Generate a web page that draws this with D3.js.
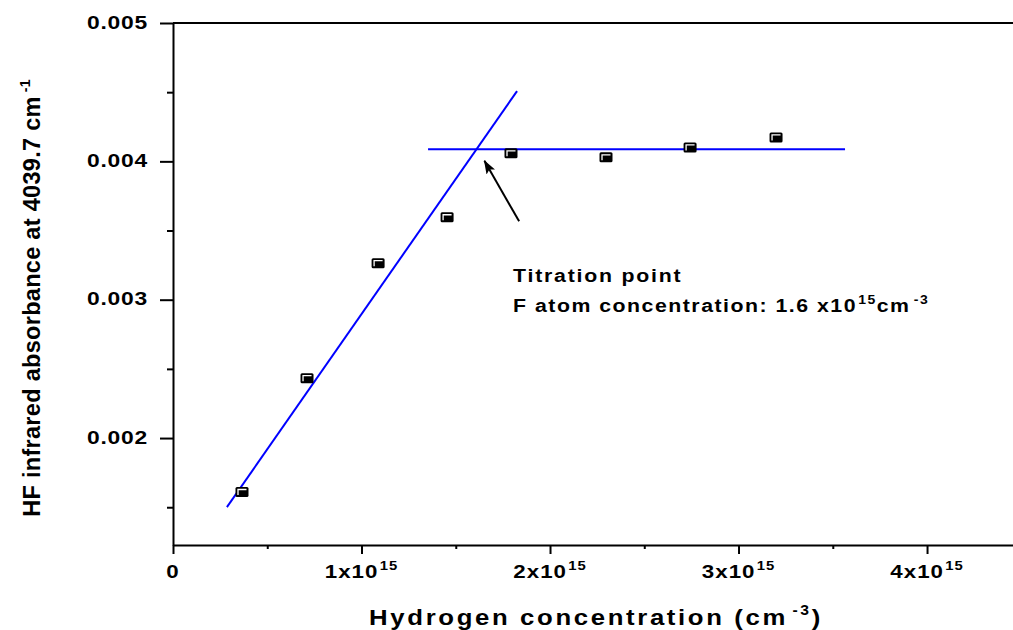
<!DOCTYPE html>
<html lang="en">
<head>
<meta charset="utf-8">
<style>
  html, body { margin: 0; padding: 0; background: #fff; }
  svg { display: block; }
  text { font-family: "Liberation Sans", Arial, sans-serif; font-weight: bold; fill: #000; }
</style>
</head>
<body>
<svg width="1013" height="630"></svg>
<script src="https://cdn.jsdelivr.net/npm/d3@7"></script>
<script>
// measured points (H concentration in cm^-3, HF absorbance)
var hConc = [0.366e15, 0.711e15, 1.088e15, 1.454e15, 1.793e15, 2.297e15, 2.743e15, 3.199e15]
var hfAbs = [0.00161, 0.002433, 0.003264, 0.003596, 0.004058, 0.004029, 0.004101, 0.004173]

// fitted lines: rising part and plateau
var riseX = [0.286e15, 1.825e15]
var riseY = [0.001501, 0.004508]
var plateauX = [1.353e15, 3.565e15]
var plateauY = [0.004087, 0.004087]

// arrow pointing at the titration point (tail, tip)
var arrowX = [1.836e15, 1.652e15]
var arrowY = [0.003567, 0.004004]

var xMajor = [0, 1e15, 2e15, 3e15, 4e15]
var xMinor = [0.5e15, 1.5e15, 2.5e15, 3.5e15]
var yMajor = [0.002, 0.003, 0.004, 0.005]
var yMinor = [0.0015, 0.0025, 0.0035, 0.0045]

var svg = d3.select('svg')
var W = 1013
var plotLeft = 173, plotTop = 23, plotBottom = 545

var x = d3.scaleLinear().domain([0, 4.456e15]).range([plotLeft, W])
var y = d3.scaleLinear().domain([0.001227, 0.005]).range([plotBottom, plotTop])

// text with optional superscripts, stretched sideways like the original
function label (parent, px, py, parts, o) {
  var tr = 'translate(' + px + ',' + py + ')'
  if (o.rotate) tr += ' rotate(' + o.rotate + ')'
  tr += ' scale(' + (o.sx || 1) + ',1)'
  var t = parent.append('g').attr('transform', tr)
    .append('text')
    .attr('text-anchor', o.anchor || 'start')
    .attr('font-size', o.size)
    .attr('letter-spacing', o.ls || 0)
  var up = false
  parts.forEach(function (p) {
    var sup = typeof p !== 'string'
    var ts = t.append('tspan').text(sup ? p.sup : p)
    if (sup) {
      ts.attr('font-size', o.supSize).attr('dy', -o.rise)
      if (p.dx) ts.attr('dx', p.dx)
      up = true
    } else if (up) {
      ts.attr('dy', o.rise)
      up = false
    }
  })
  return t
}

// axes (tick marks only, labels drawn by hand)
var yAxis = svg.append('g').attr('transform', 'translate(' + plotLeft + ',0)')
yAxis.call(d3.axisLeft(y).tickValues(yMajor).tickSize(13).tickSizeOuter(0).tickFormat(''))
var yAxisMinor = svg.append('g').attr('transform', 'translate(' + plotLeft + ',0)')
yAxisMinor.call(d3.axisLeft(y).tickValues(yMinor).tickSize(6).tickSizeOuter(0).tickFormat(''))
yAxisMinor.select('.domain').remove()

var xAxis = svg.append('g').attr('transform', 'translate(0,' + plotBottom + ')')
xAxis.call(d3.axisBottom(x).tickValues(xMajor).tickSize(9).tickSizeOuter(0).tickFormat(''))
var xAxisMinor = svg.append('g').attr('transform', 'translate(0,' + plotBottom + ')')
xAxisMinor.call(d3.axisBottom(x).tickValues(xMinor).tickSize(4).tickSizeOuter(0).tickFormat(''))
xAxisMinor.select('.domain').remove()

// top frame line
svg.append('line')
  .attr('x1', x.range()[0]).attr('x2', x.range()[1])
  .attr('y1', y(0.005)).attr('y2', y(0.005))

svg.selectAll('.domain, .tick line, line')
  .attr('stroke', '#000').attr('stroke-width', 2)

// tick labels
yMajor.forEach(function (v) {
  label(svg, plotLeft - 25, y(v) + 5.5, [d3.format('.3f')(v)],
    { size: 18, sx: 1.27, ls: 0.6, anchor: 'end' })
})
xMajor.forEach(function (v) {
  var n = Math.round(v / 1e15)
  var parts = n === 0 ? ['0'] : [n + 'x10', { sup: '15', dx: 1 }]
  label(svg, x(v), plotBottom + 33, parts,
    { size: 18, sx: 1.24, ls: 0.8, anchor: 'middle', supSize: 12, rise: 8 })
})

// axis titles
label(svg, 596, 625, ['Hydrogen concentration (cm', { sup: '-3', dx: 4 }, ')'],
  { size: 23, sx: 1.12, ls: 2.35, anchor: 'middle', supSize: 14, rise: 10 })
label(svg, 40, 298, ['HF infrared absorbance at 4039.7 cm', { sup: '-1', dx: 4 }],
  { size: 23.5, rotate: -90, ls: 0.3, anchor: 'middle', supSize: 14, rise: 10 })

// fitted lines
var line = d3.line().x(function (d) { return x(d[0]) }).y(function (d) { return y(d[1]) })
svg.append('path').datum(d3.zip(riseX, riseY))
  .attr('d', line).attr('fill', 'none').attr('stroke', '#0000ff').attr('stroke-width', 2)
svg.append('path').datum(d3.zip(plateauX, plateauY))
  .attr('d', line).attr('fill', 'none').attr('stroke', '#0000ff').attr('stroke-width', 2)

// data markers: black box with a white corner highlight
var pts = svg.append('g').selectAll('g')
  .data(d3.zip(hConc, hfAbs))
  .enter().append('g')
  .attr('transform', function (d) { return 'translate(' + x(d[0]) + ',' + y(d[1]) + ')' })
pts.append('rect')
  .attr('x', -6.5).attr('y', -5).attr('width', 13).attr('height', 10).attr('rx', 1.5)
  .attr('fill', '#000')
pts.append('path')
  .attr('d', 'M-4,3V-2.5H4.5')
  .attr('fill', 'none').attr('stroke', '#fff').attr('stroke-width', 1.3)

// arrow
svg.append('defs').append('marker')
  .attr('id', 'head').attr('markerUnits', 'userSpaceOnUse')
  .attr('markerWidth', 14).attr('markerHeight', 10)
  .attr('refX', 13).attr('refY', 5).attr('orient', 'auto')
  .append('path').attr('d', 'M0,0L14,5L0,10L3,5Z').attr('fill', '#000')
svg.append('line')
  .attr('x1', x(arrowX[0])).attr('y1', y(arrowY[0]))
  .attr('x2', x(arrowX[1])).attr('y2', y(arrowY[1]))
  .attr('stroke', '#000').attr('stroke-width', 2)
  .attr('marker-end', 'url(#head)')

// annotation
var ax = x(1.804e15), ay = y(0.003126)
label(svg, ax, ay, ['Titration point'], { size: 19, sx: 1.12, ls: 1.6 })
label(svg, ax, ay + 30, ['F atom concentration: 1.6 x10', { sup: '15', dx: 1 }, 'cm', { sup: '-3', dx: 3 }],
  { size: 19, sx: 1.12, ls: 1.35, supSize: 12.5, rise: 8 })
</script>
</body>
</html>
